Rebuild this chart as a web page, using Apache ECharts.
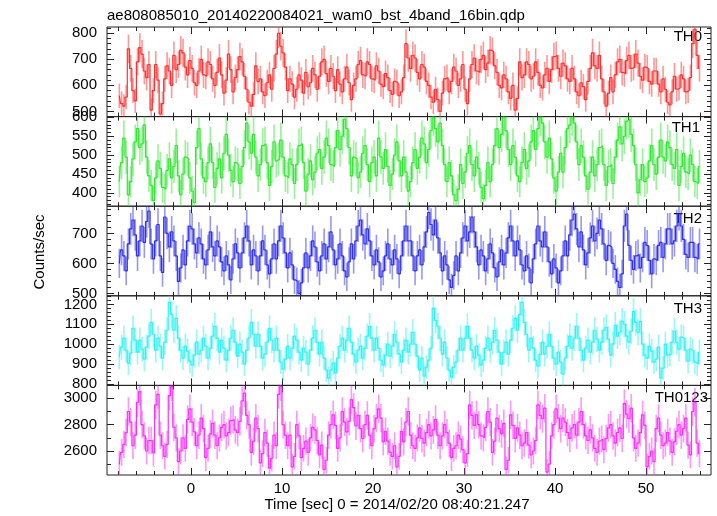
<!DOCTYPE html>
<html><head><meta charset="utf-8">
<script src="https://cdn.jsdelivr.net/npm/echarts@6/dist/echarts.min.js"></script>
<style>html,body{margin:0;padding:0;background:#fff}#c{width:717px;height:516px}</style>
</head><body><div id="c"></div>
<script>
// ---------------- data ----------------
const chartTitle = 'ae808085010_20140220084021_wam0_bst_4band_16bin.qdp';
const xTitle = 'Time [sec] 0 = 2014/02/20 08:40:21.247';
const yTitle = 'Counts/sec';
const bandNames = ['TH0', 'TH1', 'TH2', 'TH3', 'TH0123'];
const binStart = -8;      // first bin edge (s)
const binWidth = 0.25;    // 16 x 1/64 s bins

const th0 = [560,530,520,555,740,665,580,540,690,745,720,655,630,680,505,580,680,620,490,530,625,675,655,600,715,660,
680,735,725,670,640,695,665,610,600,655,700,640,635,690,680,625,600,650,705,640,570,620,720,660,575,630,660,710,690,635,585,535,
520,565,675,615,625,575,560,610,640,585,665,720,800,750,725,670,580,625,605,555,585,640,620,570,650,595,610,665,640,585,635,690,700,645,615,665,635,580,660,605,575,625,670,610,545,600,625,680,
695,640,635,690,680,625,620,675,655,605,595,645,630,580,565,615,610,560,575,630,760,705,665,715,705,650,625,680,670,615,600,555,535,585,545,500,570,625,630,575,615,670,655,600,625,680,585,530,625,680,705,655,650,700,715,660,685,735,730,675,650,600,590,640,625,575,550,600,505,550,690,630,
640,690,680,625,635,690,650,600,590,640,665,615,660,710,715,665,635,685,675,625,615,665,625,575,560,610,595,545,615,665,725,675,665,715,625,575,520,570,630,575,640,690,700,650,645,695,715,665,670,720,685,635,620,670,665,615,605,655,655,605,575,625,585,535,525,575,635,585,590,640,625,575,580,630,760,815,715,665];

const th1 = [430,480,545,495,395,430,490,535,570,520,530,580,495,445,420,380,440,485,465,415,410,460,490,440,470,525,445,395,450,495,490,440,405,375,520,570,490,440,430,480,530,480,415,465,490,440,505,555,
500,460,430,480,475,425,470,520,585,535,505,555,495,445,475,525,530,480,420,470,535,485,490,540,495,445,440,490,475,425,475,525,530,480,405,450,485,435,455,505,515,465,495,545,525,475,470,520,565,515,550,595,570,520,445,495,490,440,
455,505,525,475,430,480,495,445,545,495,465,515,470,420,450,500,535,485,445,495,455,405,430,480,515,465,495,545,530,480,515,565,600,570,535,585,525,475,430,480,445,395,380,410,475,425,455,505,525,475,445,495,465,415,385,420,480,430,475,525,570,520,555,600,565,515,475,525,495,445,430,480,515,465,485,535,565,515,570,600,585,535,495,545,490,440,405,455,505,455,520,570,580,600,585,535,475,525,495,445,410,455,495,445,
475,520,525,475,420,470,475,425,495,540,575,530,550,590,595,555,525,475,400,435,475,430,440,485,525,475,450,495,540,495,485,535,520,475,465,515,420,470,505,455,450,500,475,430,425,470];

const th2 = [600,645,625,575,665,715,745,695,625,675,725,670,740,775,665,615,675,730,625,570,755,700,655,705,675,625,540,585,645,595,675,725,
715,665,635,685,665,615,595,645,705,655,625,675,655,605,575,625,595,545,615,665,635,585,635,685,725,675,595,645,625,575,625,675,
645,595,565,615,665,615,675,725,685,635,585,635,595,545,540,500,535,585,635,585,625,675,655,605,575,625,665,615,655,705,645,595,
615,665,625,575,555,605,665,615,675,725,745,695,665,715,675,625,595,645,605,555,575,625,665,615,595,645,615,565,625,675,725,675,
675,625,575,625,645,595,655,705,770,730,695,745,685,635,575,625,595,545,520,560,625,575,635,685,725,675,705,755,705,655,595,645,
625,575,615,665,635,585,555,605,645,595,635,685,725,675,625,675,645,595,575,625,585,535,615,665,725,675,655,705,655,605,565,615,
585,535,575,625,675,625,695,745,765,715,655,705,645,595,635,685,725,675,
700,745,715,665,610,660,655,600,580,540,520,565,725,765,660,610,580,625,630,585,620,670,660,610,565,615,610,660,670,620,665,715,715,665,675,725,765,725,680,630,620,670,670,620,615,665];

const th3 = [935,985,1030,970,905,955,1080,1020,960,1020,975,925,985,1040,1110,1050,970,1030,990,930,1010,1070,1210,1150,1070,1130,1030,970,930,990,965,915,
895,945,1010,950,970,1030,990,930,980,1040,1090,1030,960,1020,980,920,970,1030,1070,1010,940,1000,960,900,970,1030,1110,1050,990,1050,990,930,
950,1010,1080,1020,970,1030,970,910,875,925,990,930,980,1040,1020,960,920,980,960,900,970,1030,1070,1010,950,1010,930,870,830,870,905,855,
930,990,1030,970,1020,1080,1010,950,910,970,990,930,980,1040,1090,1030,970,1030,980,920,895,945,1000,940,990,1050,1010,950,910,970,1020,960,
1000,1060,1000,940,870,930,840,885,920,980,1180,1120,1090,1030,950,1010,930,870,835,885,910,970,1030,970,1030,1090,1030,970,930,990,945,895,
920,980,1030,970,1010,1070,1020,960,900,960,1010,950,1020,1080,1130,1070,1150,1210,1110,1050,970,1030,980,920,890,950,1010,950,990,1050,990,930,
900,960,910,850,930,990,1040,980,1030,1090,1030,970,920,980,1020,960,1010,1070,
1025,970,1010,1070,1085,1025,945,1000,1095,1040,1060,1115,1100,1040,1010,1065,1165,1110,1060,1115,1000,945,930,990,965,910,925,985,830,880,1000,945,950,1010,1065,1010,975,1035,1030,970,915,975,965,910,900,960];

const th0123 = [2500,2590,2650,2740,2900,2820,2640,2720,2970,3050,2800,2715,2600,2680,2680,2585,2950,3030,2720,2640,2560,2650,3020,3090,2780,2700,2520,2600,2700,2620,2840,2920,
2820,2745,2640,2720,2850,2770,2550,2620,2730,2810,2720,2640,2700,2780,2800,2715,2740,2830,2840,2760,2740,2825,2980,3040,2870,2800,2590,2675,2850,2770,2510,2580,
2740,2660,2470,2545,2720,2640,3030,3090,2800,2720,2640,2720,2480,2560,2800,2715,2550,2620,2675,2590,2700,2780,2760,2680,2570,2645,2460,2530,2720,2800,2875,2795,
2620,2700,2900,2820,2745,2825,2990,2930,2790,2870,2770,2695,2800,2870,2720,2640,2770,2850,2920,2850,2670,2750,2675,2590,2560,2640,2480,2560,2750,2670,2820,2900,
2720,2640,2620,2700,2775,2695,2660,2740,2800,2715,2760,2840,2720,2640,2715,2800,2740,2660,2550,2620,2640,2720,2690,2610,2510,2580,2950,2870,2795,2875,2800,2715,
2700,2780,2900,2820,2590,2675,2850,2770,2730,2810,2460,2530,2875,2795,2695,2775,2720,2640,2660,2740,2645,2570,2600,2680,2950,2870,2845,2925,2440,2500,2715,2800,
2920,2850,2770,2850,2820,2740,2695,2775,2800,2720,2820,2900,2800,2715,2680,2760,2700,2620,
2590,2675,2690,2610,2695,2775,2800,2715,2660,2740,2775,2695,2960,2880,2845,2925,2700,2620,2660,2740,2875,2795,2480,2560,2600,2520,2770,2850,2720,2640,2660,2740,2675,2590,2670,2750,2800,2720,2770,2850,2645,2570,2900,2970,2660,2580];

const xTickValues = [0, 10, 20, 30, 40, 50];
const th0Ticks = [500, 600, 700, 800];
const th1Ticks = [400, 450, 500, 550, 600];
const th2Ticks = [500, 600, 700];
const th3Ticks = [800, 900, 1000, 1100, 1200];
const th0123Ticks = [2600, 2800, 3000];

// ---------------- layout / style ----------------
const FONT = "'Liberation Sans', Arial, Helvetica, sans-serif";
const LEFT = 107, PW = 604, TOP = 27, PH = 89.6;
const XMIN = -9.23, XMAX = 57.14;
const AX = '#222';

const panels = [
  { name: bandNames[0], values: th0,    ticks: th0Ticks,    minorStep: 20,  range: [480, 824],   color: 'rgb(255,48,48)',  label: [702, 36.7] },
  { name: bandNames[1], values: th1,    ticks: th1Ticks,    minorStep: 10,  range: [365, 602],   color: 'rgb(48,232,48)',  label: [700, 128.3] },
  { name: bandNames[2], values: th2,    ticks: th2Ticks,    minorStep: 20,  range: [492, 791],   color: 'rgb(48,48,235)',  label: [702, 219.3] },
  { name: bandNames[3], values: th3,    ticks: th3Ticks,    minorStep: 20,  range: [793, 1243],  color: 'rgb(48,242,242)', label: [702, 309.3] },
  { name: bandNames[4], values: th0123, ticks: th0123Ticks, minorStep: 100, range: [2418, 3098], color: 'rgb(250,48,250)', label: [708, 398.3] }
];

function stepValues(a, b, s, exclude) {
  const out = [];
  for (let v = Math.ceil(a / s) * s; v <= b + 1e-9; v += s) {
    const r = Math.round(v * 1000) / 1000;
    if (!exclude.some(e => Math.abs(e - r) < 1e-6)) out.push(r);
  }
  return out;
}

const xMinor = stepValues(XMIN, XMAX, 2, xTickValues);
const grids = [], xAxes = [], yAxes = [], series = [], graphics = [];
const plain = v => String(v);

function mkX(g, pos, vals, len, labels) {
  return {
    type: 'value', gridIndex: g, position: pos, min: XMIN, max: XMAX,
    axisLine: { show: false, onZero: false },
    axisTick: { show: true, inside: true, length: len, customValues: vals, lineStyle: { color: AX, width: 1 } },
    axisLabel: labels ? { show: true, customValues: vals, formatter: plain, margin: 6, color: '#000', fontSize: 15, fontFamily: FONT } : { show: false },
    splitLine: { show: false }, minorTick: { show: false }
  };
}
function mkY(g, pos, p, vals, len, labels) {
  return {
    type: 'value', gridIndex: g, position: pos, min: p.range[0], max: p.range[1],
    axisLine: { show: false, onZero: false },
    axisTick: { show: true, inside: true, length: len, customValues: vals, lineStyle: { color: AX, width: 1 } },
    axisLabel: labels ? { show: true, customValues: vals, formatter: plain, margin: 10, color: '#000', fontSize: 15, fontFamily: FONT } : { show: false },
    splitLine: { show: false }, minorTick: { show: false }
  };
}

panels.forEach((p, g) => {
  grids.push({ left: LEFT, width: PW, top: TOP + g * PH, height: PH, show: true, borderColor: AX, borderWidth: 1, backgroundColor: 'rgba(0,0,0,0)' });
  xAxes.push(mkX(g, 'bottom', xTickValues, 7, g === panels.length - 1));
  xAxes.push(mkX(g, 'bottom', xMinor, 4, false));
  xAxes.push(mkX(g, 'top', xTickValues, 7, false));
  xAxes.push(mkX(g, 'top', xMinor, 4, false));
  const majors = p.ticks.filter(v => v >= p.range[0] && v <= p.range[1]);
  const minors = stepValues(p.range[0], p.range[1], p.minorStep, p.ticks);
  yAxes.push(mkY(g, 'left', p, majors, 7, true));
  yAxes.push(mkY(g, 'left', p, minors, 4, false));
  yAxes.push(mkY(g, 'right', p, majors, 7, false));
  yAxes.push(mkY(g, 'right', p, minors, 4, false));

  const pts = p.values.map((v, i) => {
    const t = binStart + binWidth * (i + 0.5);
    const err = Math.sqrt(v * binWidth) / binWidth; // Poisson error of the bin
    return [t, v, err];
  });
  const col = p.color;
  series.push({
    type: 'custom', xAxisIndex: 4 * g, yAxisIndex: 4 * g, clip: true, silent: true,
    data: pts, encode: { x: 0, y: 1 },
    renderItem: (params, api) => {
      const x = api.value(0), y = api.value(1), e = api.value(2);
      const a = api.coord([x, y - e]), b = api.coord([x, y + e]);
      return { type: 'line', shape: { x1: a[0], y1: a[1], x2: b[0], y2: b[1] },
        style: { stroke: col, lineWidth: 1.6, opacity: 0.5 } };
    }
  });
  series.push({
    type: 'line', xAxisIndex: 4 * g, yAxisIndex: 4 * g, step: 'middle', symbol: 'none', silent: true, clip: true,
    data: pts.map(d => [d[0], d[1]]),
    lineStyle: { color: col, width: 1.2 }
  });
  graphics.push({ type: 'text', x: p.label[0], y: p.label[1], style: { text: p.name, align: 'right', verticalAlign: 'middle', font: '15px ' + FONT, fill: '#000' } });
});

graphics.push({ type: 'text', x: 107, y: 16, style: { text: chartTitle, align: 'left', verticalAlign: 'middle', font: '15px ' + FONT, fill: '#000' } });
graphics.push({ type: 'text', x: 397, y: 505, style: { text: xTitle, align: 'center', verticalAlign: 'middle', font: '15px ' + FONT, fill: '#000' } });
graphics.push({ type: 'text', x: 40, y: 252, rotation: Math.PI / 2, style: { text: yTitle, align: 'center', verticalAlign: 'middle', font: '15px ' + FONT, fill: '#000' } });

const chart = echarts.init(document.getElementById('c'), null, { renderer: 'canvas' });
chart.setOption({
  animation: false,
  backgroundColor: '#fff',
  grid: grids, xAxis: xAxes, yAxis: yAxes, series: series, graphic: graphics
});
</script></body></html>
